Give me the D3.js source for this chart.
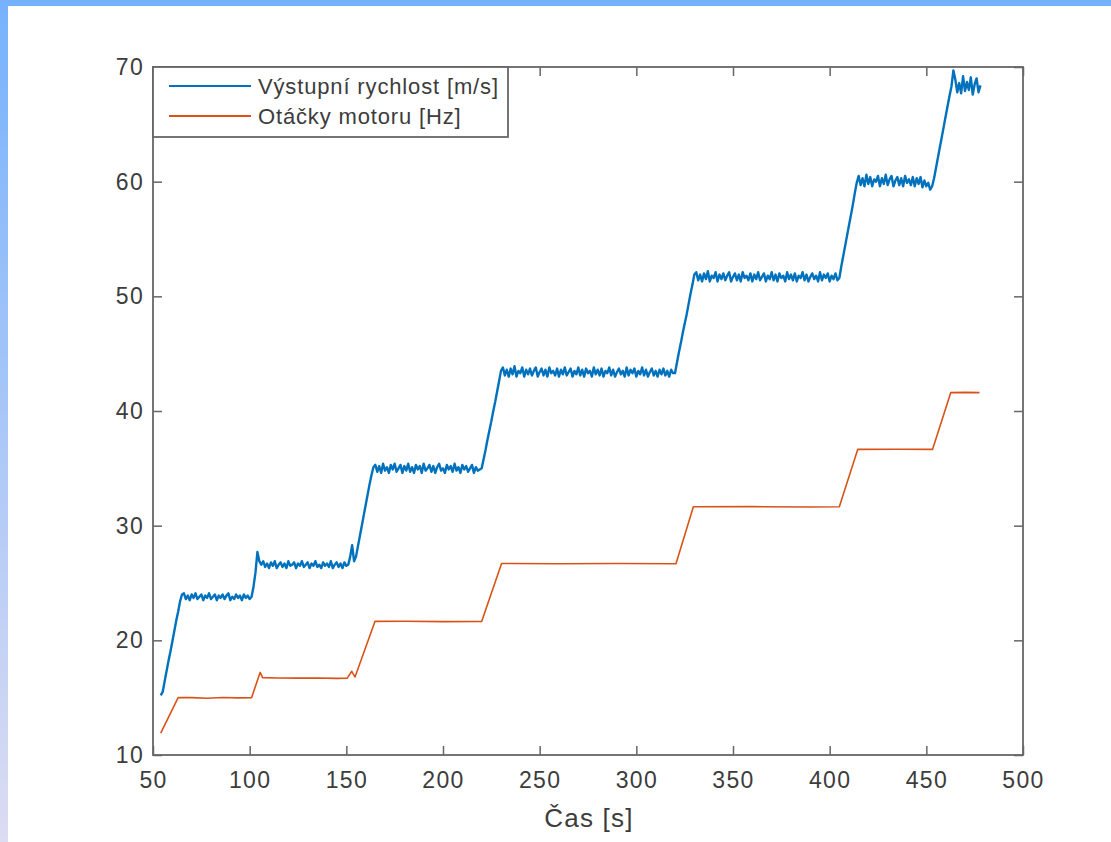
<!DOCTYPE html>
<html>
<head>
<meta charset="utf-8">
<script src="https://cdn.jsdelivr.net/npm/d3@7"></script>
<style>
body { margin: 0; background: #fff; }
svg { display: block; font-family: "Liberation Sans", Arial, sans-serif; }
</style>
</head>
<body>
<svg width="1111" height="842"></svg>
<script>
// Tick values
var casTicks = [50, 100, 150, 200, 250, 300, 350, 400, 450, 500];
var hodnotaTicks = [10, 20, 30, 40, 50, 60, 70];

// Vystupni rychlost [m/s], sampled once per second: [start time, values...]
var rychlostUseky = [
    [54, [15.2, 15.5, 16.4, 17.3, 18.2, 19.0, 19.9, 20.8, 21.7, 22.5, 23.4, 24.0]],
    [66, [24.1, 23.6, 23.9, 23.5, 24.0, 23.7, 24.1, 23.6, 23.8, 24.0,
          23.5, 23.9, 23.7, 24.1, 23.6, 23.8, 24.0, 23.5, 23.9, 23.7,
          24.0, 23.6, 23.9, 24.1, 23.5, 23.8, 23.6, 24.0, 23.7, 23.9,
          23.5, 24.0, 23.7, 23.9, 23.6]],
    [101, [23.8, 24.7, 25.9, 27.7, 26.9, 26.6]],
    [107, [26.9, 26.4, 26.7, 26.3, 26.8, 26.5, 26.9, 26.3, 26.6, 26.8,
           26.4, 26.7, 26.3, 26.9, 26.5, 26.6, 26.8, 26.3, 26.7, 26.5,
           26.9, 26.4, 26.6, 26.8, 26.3, 26.7, 26.5, 26.9, 26.4, 26.6,
           26.3, 26.8, 26.5, 26.7, 26.4, 26.9, 26.3, 26.6, 26.8, 26.4,
           26.7, 26.3, 26.8, 26.5]],
    [151, [26.6, 27.3, 28.3, 26.9, 27.3, 28.2, 29.1, 30.0, 30.9, 31.8, 32.7, 33.6, 34.4, 35.1]],
    [165, [35.3, 34.7, 35.2, 34.6, 35.4, 34.8, 35.1, 34.6, 35.3, 34.9,
           35.4, 34.7, 35.0, 35.3, 34.6, 35.2, 34.8, 35.4, 34.7, 35.1,
           34.6, 35.3, 34.9, 35.2, 34.6, 35.4, 34.8, 35.0, 35.3, 34.7,
           35.2, 34.6, 35.1, 35.4, 34.8, 35.0, 34.6, 35.3, 34.9, 35.2,
           34.7, 35.4, 34.8, 35.1, 34.6, 35.3, 34.9, 35.2, 34.7, 35.0,
           35.3, 34.6, 35.1, 34.8, 34.9]],
    [220, [35.0, 35.8, 36.6, 37.5, 38.3, 39.1, 40.0, 40.8, 41.7, 42.6, 43.5]],
    [231, [43.8, 43.1, 43.6, 43.0, 43.7, 43.2, 43.9, 43.0, 43.5, 43.3,
           43.8, 43.0, 43.6, 43.2, 43.7, 43.1, 43.5, 43.8, 43.0, 43.4,
           43.7, 43.1, 43.6, 43.0, 43.8, 43.3, 43.5, 43.1, 43.7, 43.0,
           43.6, 43.2, 43.8, 43.1, 43.4, 43.7, 43.0, 43.5, 43.2, 43.8,
           43.1, 43.6, 43.0, 43.7, 43.3, 43.5, 43.0, 43.8, 43.2, 43.6,
           43.1, 43.7, 43.0, 43.5, 43.3, 43.8, 43.1, 43.6, 43.0, 43.4,
           43.7, 43.2, 43.5, 43.0, 43.8, 43.1, 43.6, 43.3, 43.7, 43.0,
           43.5, 43.2, 43.8, 43.1, 43.6, 43.0, 43.4, 43.7, 43.1, 43.5,
           43.0, 43.6, 43.2, 43.7, 43.1, 43.5, 43.0, 43.6, 43.3]],
    [320, [43.3, 44.2, 45.1, 45.9, 46.8, 47.6, 48.4, 49.3, 50.2, 51.0, 51.9]],
    [331, [52.1, 51.4, 51.9, 51.3, 52.0, 51.5, 52.2, 51.3, 51.8, 51.6,
           52.1, 51.3, 51.9, 51.5, 52.0, 51.4, 51.8, 52.1, 51.3, 51.7,
           52.0, 51.4, 51.9, 51.3, 52.1, 51.6, 51.8, 51.4, 52.0, 51.3,
           51.9, 51.5, 52.1, 51.4, 51.7, 52.0, 51.3, 51.8, 51.5, 52.1,
           51.4, 51.9, 51.3, 52.0, 51.6, 51.8, 51.3, 52.1, 51.5, 51.9,
           51.4, 52.0, 51.3, 51.8, 51.6, 52.1, 51.4, 51.9, 51.3, 51.7,
           52.0, 51.5, 51.8, 51.3, 52.1, 51.4, 51.9, 51.6, 52.0, 51.3,
           51.8, 51.5, 52.0, 51.4]],
    [405, [51.6, 52.6, 53.5, 54.4, 55.3, 56.2, 57.1, 58.0, 59.0, 59.9]],
    [415, [60.5, 59.7, 60.3, 59.6, 60.6, 59.8, 60.4, 59.6, 60.2, 60.0,
           60.5, 59.6, 60.3, 59.8, 60.6, 59.7, 60.2, 60.5, 59.6, 60.1,
           60.4, 59.7, 60.3, 59.6, 60.5, 59.9, 60.2, 59.7, 60.4, 59.6,
           60.3, 59.8, 60.4, 59.5, 60.1, 59.6, 59.9, 59.3, 59.6]],
    [454, [60.3, 61.2, 62.1, 63.0, 63.9, 64.8, 65.7, 66.6, 67.5, 68.3, 69.7]],
    [465, [68.9, 67.8, 68.6, 67.7, 69.2, 67.9, 68.7, 68.0, 69.1, 67.6, 68.5, 69.0, 67.8, 68.4]]
];

// Otacky motoru [Hz]: [time, value]
var otacky = [
    [54, 11.9], [63, 15.0], [70, 15.0], [78, 14.95], [86, 15.02], [94, 14.98], [101, 15.0],
    [105.4, 17.2], [106.7, 16.75], [115, 16.72], [125, 16.7], [135, 16.72], [145, 16.68], [150.5, 16.7],
    [152.8, 17.3], [154.5, 16.8], [164.8, 21.65], [180, 21.66], [200, 21.63], [220, 21.65],
    [230.3, 26.7], [260, 26.68], [290, 26.7], [320.5, 26.68],
    [329.5, 31.65], [360, 31.66], [390, 31.63], [405, 31.65],
    [414.5, 36.65], [435, 36.66], [453.2, 36.65],
    [462.6, 41.6], [470, 41.62], [477.5, 41.6]
];

var legendNames = ["Výstupní rychlost [m/s]", "Otáčky motoru [Hz]"];
var colors = ["#0072bd", "#d95319"];

var svg = d3.select("svg"),
    width = +svg.attr("width"),
    height = +svg.attr("height");

// Blue frame of the screenshot
var defs = svg.append("defs");
var grad = defs.append("linearGradient").attr("id", "leftband")
    .attr("x1", 0).attr("y1", 0).attr("x2", 0).attr("y2", 1);
grad.append("stop").attr("offset", "0%").attr("stop-color", "#76b2fc");
grad.append("stop").attr("offset", "100%").attr("stop-color", "#dcdcf2");
svg.append("rect").attr("x", 0).attr("y", 0).attr("width", 8).attr("height", height).attr("fill", "url(#leftband)");
svg.append("rect").attr("x", 0).attr("y", 0).attr("width", width).attr("height", 6).attr("fill", "#76b2fc");

var x0 = 153, x1 = 1023, y0 = 67, y1 = 755;
var x = d3.scaleLinear().domain([50, 500]).range([x0, x1]);
var y = d3.scaleLinear().domain([10, 70]).range([y1, y0]);

var axisColor = "#666";
var textColor = "#3c3c3c";

function styleAxis(g) {
    g.select(".domain").remove();
    g.selectAll(".tick line").attr("stroke", axisColor).attr("stroke-width", 1.5);
    g.selectAll(".tick text").attr("fill", textColor).attr("font-size", 23).attr("letter-spacing", 1.3);
}

svg.append("g").attr("transform", "translate(0," + y1 + ")")
    .call(d3.axisBottom(x).tickValues(casTicks).tickSizeInner(-9).tickSizeOuter(0).tickPadding(17).tickFormat(d3.format("d")))
    .call(styleAxis);
svg.append("g").attr("transform", "translate(0," + y0 + ")")
    .call(d3.axisTop(x).tickValues(casTicks).tickSizeInner(-9).tickSizeOuter(0).tickFormat(""))
    .call(styleAxis);
svg.append("g").attr("transform", "translate(" + x0 + ",0)")
    .call(d3.axisLeft(y).tickValues(hodnotaTicks).tickSizeInner(-9).tickSizeOuter(0).tickPadding(9).tickFormat(d3.format("d")))
    .call(styleAxis);
svg.append("g").attr("transform", "translate(" + x1 + ",0)")
    .call(d3.axisRight(y).tickValues(hodnotaTicks).tickSizeInner(-9).tickSizeOuter(0).tickFormat(""))
    .call(styleAxis);

var line = d3.line().x(d => x(d[0])).y(d => y(d[1]));

var rychlost = rychlostUseky.flatMap(u => u[1].map((v, i) => [u[0] + i, v]));

svg.append("path").datum(otacky)
    .attr("fill", "none").attr("stroke", colors[1]).attr("stroke-width", 1.6)
    .attr("stroke-linejoin", "round").attr("d", line);

svg.append("path").datum(rychlost)
    .attr("fill", "none").attr("stroke", colors[0]).attr("stroke-width", 2.4)
    .attr("stroke-linejoin", "round").attr("d", line);

// Axes box
svg.append("rect").attr("x", x0).attr("y", y0).attr("width", x1 - x0).attr("height", y1 - y0)
    .attr("fill", "none").attr("stroke", axisColor).attr("stroke-width", 1.8);

// Legend
var legend = svg.append("g");
legend.append("rect").attr("x", x0).attr("y", y0).attr("width", 355).attr("height", 70)
    .attr("fill", "#fff").attr("stroke", axisColor).attr("stroke-width", 1.8);
legendNames.forEach(function(name, i) {
    var ly = 86 + i * 30;
    legend.append("line").attr("x1", 169).attr("x2", 251).attr("y1", ly).attr("y2", ly)
        .attr("stroke", colors[i]).attr("stroke-width", 2);
    legend.append("text").attr("x", 258).attr("y", ly).attr("dy", "0.35em")
        .attr("fill", textColor).attr("font-size", 22).attr("letter-spacing", 0.85).text(name);
});

// X axis label
svg.append("text").attr("x", (x0 + x1) / 2 + 1).attr("y", 827)
    .attr("text-anchor", "middle").attr("fill", textColor).attr("font-size", 26)
    .attr("letter-spacing", 1.2).text("Čas [s]");
</script>
</body>
</html>
